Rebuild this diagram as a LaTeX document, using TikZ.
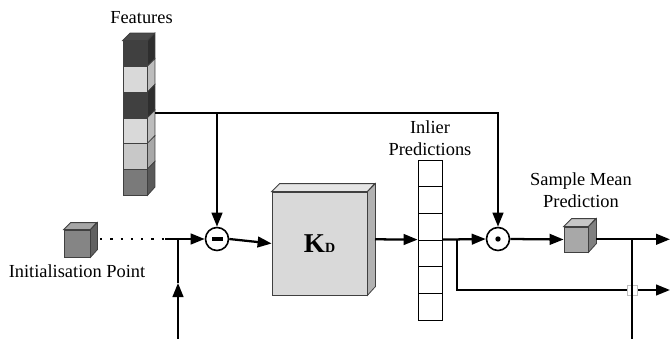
\documentclass[tikz,border=0pt]{standalone}
\usepackage{fontspec}
\setmainfont{Liberation Serif}
\usetikzlibrary{arrows.meta}
\definecolor{dkF}{HTML}{404040}\definecolor{dkS}{HTML}{2E2E2E}\definecolor{dkT}{HTML}{4A4A4A}
\definecolor{ltF}{HTML}{D9D9D9}\definecolor{ltS}{HTML}{BDBDBD}
\definecolor{mgF}{HTML}{C8C8C8}\definecolor{mgS}{HTML}{A8A8A8}
\definecolor{gmF}{HTML}{7A7A7A}\definecolor{gmS}{HTML}{595959}
\begin{document}
\begin{tikzpicture}[x=0.75pt,y=-0.75pt,
  conn/.style={line width=1.7pt},
  arr/.style={conn,-{Triangle[length=10.5pt,width=8pt]}},
  lbl/.style={font=\fontsize{13.8}{16.5}\selectfont,align=center,inner sep=0pt},
  face/.style={draw=black!75,line width=0.6pt},
  fcell/.style={face,minimum width=18pt,minimum height=19.25pt,inner sep=0pt},
  pcell/.style={draw=black,line width=0.6pt,fill=white,minimum width=18pt,minimum height=20pt,inner sep=0pt},
  op/.style={circle,draw,line width=1.2pt,fill=white,minimum size=17.25pt,inner sep=0pt}
]
\useasboundingbox (0,0) rectangle (672,339);
% Features column
\foreach \i/\fc/\sc in {1/dkF/dkS,2/ltF/ltS,3/dkF/dkS,4/ltF/ltS,5/mgF/mgS,6/gmF/gmS}{
  \node[fcell,fill=\fc] (f\i) at (135,{41+25.67*(\i-0.5)}) {};
  \filldraw[face,fill=\sc] (f\i.north east) -- ++(7.5,-7.5) -- ++(0,25.67) -- (f\i.south east) -- cycle;
}
\filldraw[face,fill=dkT] (f1.north west) -- ++(7.5,-7.5) -- ++(24,0) -- (f1.north east) -- cycle;
\node[lbl] (tf) at (141.5,18) {Features};

% Initialisation cube
\node[face,fill=black!48,minimum width=19.5pt,minimum height=20.25pt,inner sep=0pt] (ic) at (77,243.5) {};
\filldraw[face,fill=black!35] (ic.north west) -- ++(7,-7) -- ++(26,0) -- (ic.north east) -- cycle;
\filldraw[face,fill=black!62] (ic.north east) -- ++(7,-7) -- ++(0,27) -- (ic.south east) -- cycle;
\node[lbl] (ti) at (77,271) {Initialisation Point};

% KD box
\node[face,fill=ltF,minimum width=71.25pt,minimum height=77.25pt,inner sep=0pt] (kd) at (319.5,243.5)
  {{\fontsize{20.4}{20}\selectfont\bfseries K}{\fontsize{10.5}{10}\selectfont\bfseries D}};
\filldraw[face,fill=black!10] (kd.north west) -- ++(8,-8) -- ++(95,0) -- (kd.north east) -- cycle;
\filldraw[face,fill=black!30] (kd.north east) -- ++(8,-8) -- ++(0,103) -- (kd.south east) -- cycle;

% Inlier predictions column
\foreach \i in {1,...,6}{
  \node[pcell] (p\i) at (430,{160+26.67*(\i-0.5)}) {};
}
\node[lbl] (tp) at (430,138) {Inlier\\Predictions};

% Operators
\node[op] (mn) at (217,239) {};
\fill (mn.center) +(-5.5,-2.3) rectangle +(5.5,2.3);
\node[op] (od) at (498,239) {};
\fill (od.center) circle[radius=2.7];

% Sample mean cube
\node[face,fill=black!34,minimum width=18pt,minimum height=18.75pt,inner sep=0pt] (sc) at (576,239.5) {};
\filldraw[face,fill=black!22] (sc.north west) -- ++(8,-8) -- ++(24,0) -- (sc.north east) -- cycle;
\filldraw[face,fill=black!50] (sc.north east) -- ++(8,-8) -- ++(0,25) -- (sc.south east) -- cycle;
\node[lbl] (ts) at (581,190) {Sample Mean\\Prediction};

% coordinates
\coordinate (ftap) at (155,113);
\coordinate (fb) at (217,113);
\coordinate (ics) at (100,239);
\coordinate (dend) at (165,239);
\coordinate (jn) at (178,239);
\coordinate (bm) at (178,283);
\coordinate (bl) at (178,339.8);
\coordinate (kds) at (375,239.3);
\coordinate (br) at (457,239.3);
\coordinate (out2) at (670,290);
\coordinate (scs) at (596,239.3);
\coordinate (out1) at (670,239.3);
\coordinate (vt) at (632,239.3);
\coordinate (gp) at (632,290);
\coordinate (vb) at (632,339.8);

% connectors
\draw[arr] (ftap) -| (od.north);
\draw[arr] (fb) -- (mn.north);
\draw[line width=1.7pt,dash pattern=on 1.7pt off 6pt] (ics) -- (dend);
\draw[arr] (dend) -- (mn.west);
\draw[arr] (bl) -- (bm);
\draw[conn] (bm) -- (jn);
\draw[arr] (mn.east) -- (kd.west);
\draw[arr] (kds) -- (p4.north west);
\draw[arr] (p4.north east) -- (od.west);
\draw[arr] (br) |- (out2);
\filldraw[draw=black!25,fill=white,line width=0.5pt] (gp) +(-5,-5) rectangle +(5,5);
\draw[arr] (od.east) -- (sc.west);
\draw[arr] (scs) -- (out1);
\draw[conn] (vt) -- (vb) -- (bl);
\end{tikzpicture}
\end{document}
